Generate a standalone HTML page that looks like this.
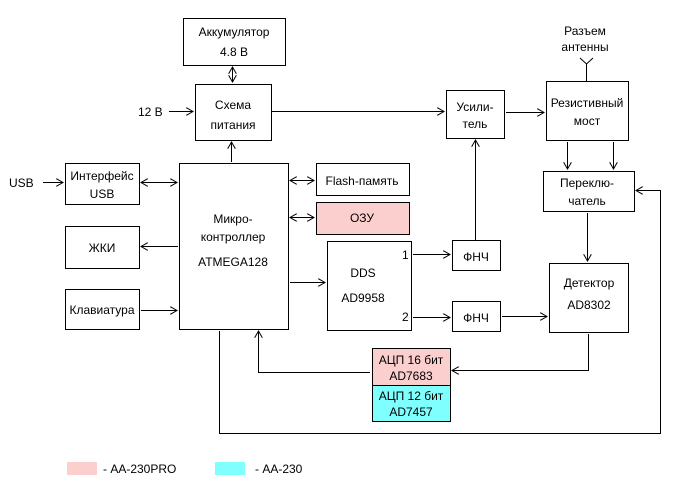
<!DOCTYPE html>
<html><head><meta charset="utf-8"><style>body{margin:0;background:#fff}svg{display:block}text{font-family:"Liberation Sans",sans-serif;font-size:12px;fill:#000}</style></head><body>
<svg width="678" height="492" viewBox="0 0 678 492" xmlns="http://www.w3.org/2000/svg">
<defs><marker id="a" markerWidth="8" markerHeight="8" refX="7" refY="4" orient="auto-start-reverse" markerUnits="userSpaceOnUse"><path d="M0,0 L7,4 L0,8" fill="none" stroke="#000" stroke-width="1"/></marker></defs>
<g fill="#fff" stroke="#000" stroke-width="1">
<rect x="183.5" y="18.5" width="102" height="47"/>
<rect x="195.5" y="84.5" width="76" height="56"/>
<rect x="179.5" y="163.5" width="109" height="166"/>
<rect x="65.5" y="163.5" width="74" height="41"/>
<rect x="65.5" y="226.5" width="74" height="42"/>
<rect x="65.5" y="289.5" width="74" height="40"/>
<rect x="316.5" y="163.5" width="93" height="32"/>
<rect x="316.5" y="202.5" width="93" height="32" fill="#fbcfce"/>
<rect x="327.5" y="241.5" width="84" height="89"/>
<rect x="452.5" y="240.5" width="48" height="30"/>
<rect x="452.5" y="301.5" width="48" height="30"/>
<rect x="549.5" y="263.5" width="79" height="69"/>
<rect x="372.5" y="348.5" width="78" height="37" fill="#fbcfce"/>
<rect x="372.5" y="385.5" width="78" height="36" fill="#80ffff"/>
<rect x="446.5" y="90.5" width="58" height="48"/>
<rect x="546.5" y="81.5" width="82" height="59"/>
<rect x="543.5" y="171.5" width="91" height="40"/>
</g>
<rect x="67" y="462" width="30" height="13" fill="#fbcfce"/>
<rect x="215" y="462" width="30" height="13" fill="#80ffff"/>
<g fill="none" stroke="#000" stroke-width="1">
<line x1="232.5" y1="67" x2="232.5" y2="82" marker-start="url(#a)" marker-end="url(#a)"/>
<line x1="169" y1="111.5" x2="193" y2="111.5" marker-end="url(#a)"/>
<line x1="272" y1="111.5" x2="444" y2="111.5" marker-end="url(#a)"/>
<line x1="506" y1="112.5" x2="544" y2="112.5" marker-end="url(#a)"/>
<line x1="586.5" y1="64" x2="586.5" y2="81"/>
<path d="M580,58 L586.5,64 L593,58"/>
<line x1="567.5" y1="142" x2="567.5" y2="169" marker-end="url(#a)"/>
<line x1="613.5" y1="142" x2="613.5" y2="169" marker-end="url(#a)"/>
<line x1="587.5" y1="213" x2="587.5" y2="261" marker-end="url(#a)"/>
<line x1="475.5" y1="240" x2="475.5" y2="140" marker-end="url(#a)"/>
<path d="M219.5,331 V433.5 H660.5 V190.5 H636" marker-end="url(#a)"/>
<path d="M588.5,334 V370.5 H452" marker-end="url(#a)"/>
<path d="M370,372.5 H258.5 V331" marker-end="url(#a)"/>
<line x1="290" y1="282.5" x2="325" y2="282.5" marker-end="url(#a)"/>
<line x1="413" y1="254.5" x2="450" y2="254.5" marker-end="url(#a)"/>
<line x1="413" y1="317.5" x2="450" y2="317.5" marker-end="url(#a)"/>
<line x1="502" y1="316.5" x2="547" y2="316.5" marker-end="url(#a)"/>
<line x1="43" y1="182.5" x2="63" y2="182.5" marker-end="url(#a)"/>
<line x1="141" y1="182.5" x2="177" y2="182.5" marker-start="url(#a)" marker-end="url(#a)"/>
<line x1="178" y1="246.5" x2="141" y2="246.5" marker-end="url(#a)"/>
<line x1="141" y1="310.5" x2="177" y2="310.5" marker-end="url(#a)"/>
<line x1="290" y1="180.5" x2="314" y2="180.5" marker-start="url(#a)" marker-end="url(#a)"/>
<line x1="290" y1="217.5" x2="314" y2="217.5" marker-start="url(#a)" marker-end="url(#a)"/>
<line x1="231.5" y1="162" x2="231.5" y2="142" marker-end="url(#a)"/>
</g>
<g text-anchor="middle">
<text x="234" y="36">Аккумулятор</text><text x="234" y="56">4.8 В</text>
<text x="233" y="109">Схема</text><text x="233" y="129">питания</text>
<text x="233" y="223">Микро-</text><text x="233" y="241">контроллер</text><text x="233" y="266">ATMEGA128</text>
<text x="102" y="180">Интерфейс</text><text x="102" y="198">USB</text>
<text x="102" y="252">ЖКИ</text>
<text x="102" y="314">Клавиатура</text>
<text x="362" y="185">Flash-память</text>
<text x="362" y="222">ОЗУ</text>
<text x="363" y="277">DDS</text><text x="363" y="302">AD9958</text>
<text x="476" y="261">ФНЧ</text><text x="476" y="322">ФНЧ</text>
<text x="589" y="287">Детектор</text><text x="589" y="309">AD8302</text>
<text x="411" y="364">АЦП 16 бит</text><text x="411" y="380">AD7683</text>
<text x="411" y="400">АЦП 12 бит</text><text x="411" y="416">AD7457</text>
<text x="475" y="111">Усили-</text><text x="475" y="128">тель</text>
<text x="587" y="107">Резистивный</text><text x="587" y="125">мост</text>
<text x="587" y="187">Переклю-</text><text x="587" y="205">чатель</text>
<text x="585" y="35">Разъем</text><text x="585" y="51">антенны</text>
</g>
<text x="138" y="116">12 В</text>
<text x="9" y="187">USB</text>
<text x="402" y="259">1</text><text x="402" y="321">2</text>
<text x="103" y="473">- АА-230PRO</text>
<text x="255" y="473">- АА-230</text>
</svg>
</body></html>
